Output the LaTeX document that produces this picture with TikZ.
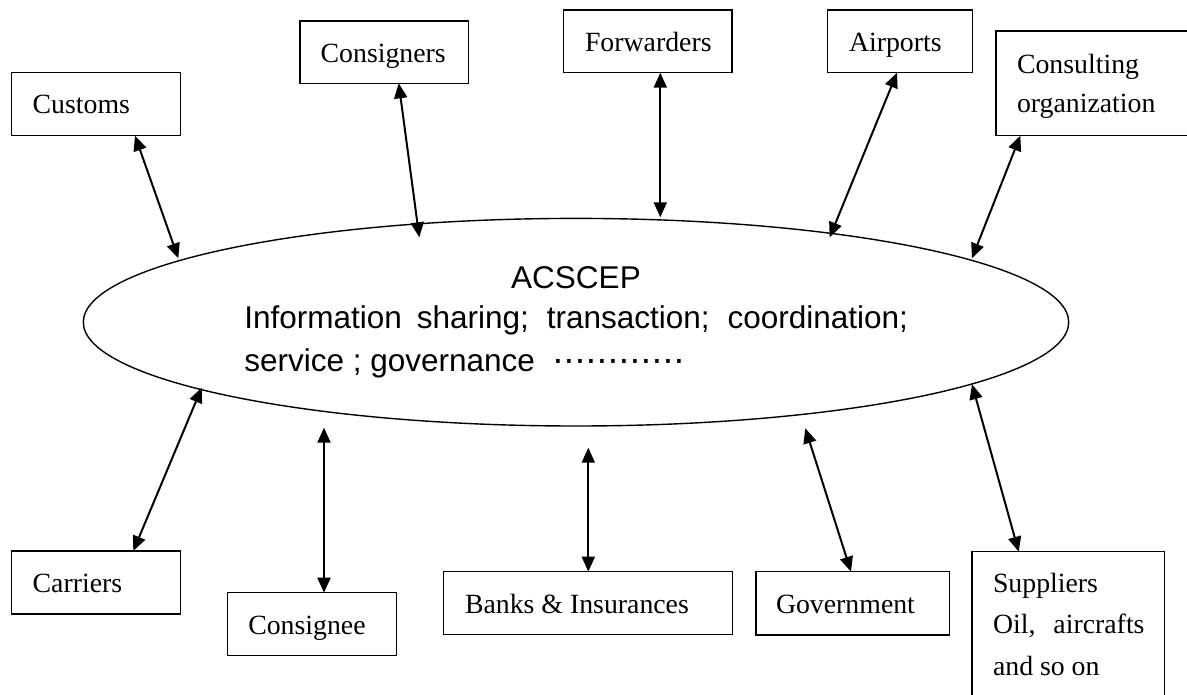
\documentclass[tikz,border=0pt]{standalone}
\usepackage{fontspec}
\setmainfont{Liberation Serif}
\newfontfamily\arialf{Liberation Sans}
\usetikzlibrary{arrows.meta,shapes.geometric}
\newcommand\bxt[3]{\makebox[#1][l]{\hspace*{#2}#3}}
\newcommand\mdot{\makebox[11pt]{\fontsize{37pt}{37pt}\selectfont ·}}
\begin{document}
\begin{tikzpicture}[x=1pt,y=-1pt,
  box/.style={draw, line width=1.5pt, inner sep=0pt, outer sep=0pt, anchor=base west,
    font=\fontsize{27.8pt}{33pt}\selectfont},
  conn/.style={line width=2pt, {Triangle[length=15pt,width=13pt]}-{Triangle[length=15pt,width=13pt]}},
  etext/.style={font=\arialf\fontsize{31.5pt}{38pt}\selectfont, inner sep=0pt, outer sep=0pt}]
\useasboundingbox (0,0) rectangle (1187,695);
\clip (0,0) rectangle (1187,695);

% central ellipse
\node[draw, ellipse, line width=1.4pt, minimum width=985.4pt, minimum height=207.6pt, inner sep=0pt] (ell) at (576,322.2) {};
\node[etext, anchor=base] (acs) at (576,288.3) {ACSCEP};
\node[etext, anchor=base west] (l1) at (244.3,328.3) {\makebox[663.7pt][s]{Information sharing; transaction; coordination;}};
\node[etext, anchor=base west] (l2) at (244.3,371) {service ; governance\hspace{17.5pt}\mdot\mdot\mdot\mdot\mdot\mdot\mdot\mdot\mdot\mdot\mdot\mdot};

% top boxes
\node[box, text height=41.7pt, text depth=21.7pt] (customs) at (11.7,114) {\bxt{169pt}{21pt}{Customs}};
\node[box, text height=42pt, text depth=20.3pt] (consigners) at (300,63) {\bxt{168.7pt}{20.7pt}{Consigners}};
\node[box, text height=41.7pt, text depth=21pt] (forwarders) at (563.7,51.7) {\bxt{168.3pt}{21.3pt}{Forwarders}};
\node[box, text height=41.7pt, text depth=21pt] (airports) at (827.7,51.7) {\bxt{145pt}{21.3pt}{Airports}};
\node[box, text height=43pt, text depth=61.7pt, font=\fontsize{27.8pt}{39pt}\selectfont] (consult) at (996,74)
  {\bxt{196pt}{21pt}{\begin{tabular}[t]{@{}l@{}}Consulting\\organization\end{tabular}}};

% bottom boxes
\node[box, text height=41.7pt, text depth=21.3pt] (carriers) at (11.7,592.7) {\bxt{168.6pt}{21pt}{Carriers}};
\node[box, text height=41.3pt, text depth=21.7pt] (consignee) at (227.7,634) {\bxt{169pt}{20.6pt}{Consignee}};
\node[box, text height=41.6pt, text depth=21pt] (banks) at (443.7,613.3) {\bxt{289pt}{21.3pt}{Banks \& Insurances}};
\node[box, text height=41.6pt, text depth=21.7pt] (gov) at (756,613.3) {\bxt{193.3pt}{20pt}{Government}};
\node[box, text height=40.6pt, text depth=110pt, font=\fontsize{27.8pt}{41.4pt}\selectfont] (suppliers) at (972,592.3)
  {\bxt{192.7pt}{21pt}{\begin{tabular}[t]{@{}l@{}}Suppliers\\Oil,\hspace{18pt}aircrafts\\and so on\end{tabular}}};

% connector ends on / near the ellipse
\coordinate (eCustoms) at (178.3,258.3);
\coordinate (eConsigners) at (419.3,237.3);
\coordinate (eForwarders) at (660.3,217.3);
\coordinate (eAirports) at (829.7,237.3);
\coordinate (eConsult) at (972,258.3);
\coordinate (eCarriers) at (201.7,387.7);
\coordinate (eConsignee) at (324,427.7);
\coordinate (eBanks) at (588.3,447.7);
\coordinate (eGov) at (805.3,428.3);
\coordinate (eSuppliers) at (972,384.3);

% connectors
\draw[conn] ([xshift=123.3pt]customs.south west) -- (eCustoms);
\draw[conn] ([xshift=98.7pt]consigners.south west) -- (eConsigners);
\draw[conn] ([xshift=96.6pt]forwarders.south west) -- (eForwarders);
\draw[conn] ([xshift=69.3pt]airports.south west) -- (eAirports);
\draw[conn] ([xshift=24.3pt]consult.south west) -- (eConsult);
\draw[conn] ([xshift=121.6pt]carriers.north west) -- (eCarriers);
\draw[conn] ([xshift=96.3pt]consignee.north west) -- (eConsignee);
\draw[conn] ([xshift=144.6pt]banks.north west) -- (eBanks);
\draw[conn] ([xshift=95pt]gov.north west) -- (eGov);
\draw[conn] ([xshift=46.7pt]suppliers.north west) -- (eSuppliers);
\end{tikzpicture}
\end{document}
